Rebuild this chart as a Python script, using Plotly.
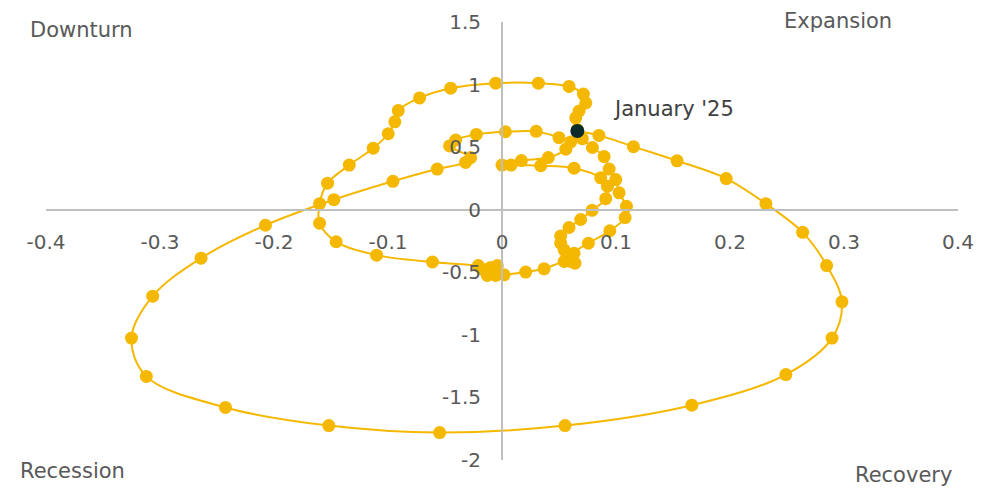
import plotly.graph_objects as go

# Monthly path (x = change, y = level), chronological order, ending at January '25
month_x = [0.064, 0.0632, 0.0758, 0.0946, 0.108, 0.1092, 0.1027, 0.0998, 0.094, 0.0896,
           0.0793, 0.0705, 0.066, 0.0647, 0.0676, 0.0735, 0.0714, 0.0588, 0.0319, -0.0055,
           -0.045, -0.0723, -0.091, -0.094, -0.0998, -0.113, -0.134, -0.153, -0.160, -0.160,
           -0.1455, -0.110, -0.061, -0.0208, -0.0099, -0.0041, -0.0158, -0.0129, -0.0055, 0.0018,
           0.0208, 0.0369, 0.0545, 0.0603, 0.057, 0.0545, 0.0515, 0.0515, 0.0588, 0.069,
           0.079, 0.091, 0.0925, 0.0866, 0.0632, 0.034, 0.008, 0.000, 0.017, 0.0406,
           0.056, 0.0603, 0.050, 0.030, 0.003, -0.0225, -0.0406, -0.046, -0.0275, -0.032,
           -0.0568, -0.0957, -0.1475, -0.2075, -0.264, -0.3064, -0.325, -0.312, -0.2426, -0.1519,
           -0.0547, 0.0553, 0.1665, 0.249, 0.2895, 0.2982, 0.2848, 0.2637, 0.2315, 0.1967,
           0.1536, 0.1153, 0.085, 0.0661]
month_y = [-0.427, -0.348, -0.268, -0.168, -0.063, 0.027, 0.135, 0.241, 0.325, 0.425,
           0.497, 0.568, 0.640, 0.734, 0.789, 0.853, 0.924, 0.985, 1.011, 1.011,
           0.971, 0.893, 0.792, 0.702, 0.607, 0.491, 0.357, 0.212, 0.048, -0.108,
           -0.256, -0.363, -0.418, -0.446, -0.461, -0.446, -0.480, -0.525, -0.525, -0.520,
           -0.498, -0.472, -0.414, -0.414, -0.361, -0.321, -0.268, -0.211, -0.142, -0.078,
           -0.005, 0.088, 0.188, 0.255, 0.332, 0.352, 0.357, 0.357, 0.393, 0.417,
           0.484, 0.542, 0.576, 0.626, 0.623, 0.602, 0.557, 0.510, 0.417, 0.378,
           0.325, 0.227, 0.080, -0.124, -0.387, -0.691, -1.026, -1.332, -1.580, -1.725,
           -1.781, -1.725, -1.562, -1.317, -1.026, -0.736, -0.446, -0.181, 0.048, 0.249,
           0.391, 0.504, 0.594, 0.629]

latest_x = [0.0661]
latest_y = [0.629]
latest_label = ["January '25"]

x_ticks = [-0.4, -0.3, -0.2, -0.1, 0, 0.1, 0.2, 0.3, 0.4]
x_tick_labels = ["-0.4", "-0.3", "-0.2", "-0.1", "0", "0.1", "0.2", "0.3", "0.4"]
y_ticks = [-2, -1.5, -1, -0.5, 0, 0.5, 1, 1.5]
y_tick_labels = ["-2", "-1.5", "-1", "-0.5", "0", "0.5", "1", "1.5"]

quadrant_names = ["Downturn", "Expansion", "Recession", "Recovery"]

YELLOW = "#F5B800"
DARK = "#0C2B2B"
GREY_TXT = "#595959"
AXIS = "#BFBFBF"
FONT = "DejaVu Sans"

fig = go.Figure()
fig.add_trace(go.Scatter(
    x=month_x, y=month_y, mode="lines+markers",
    line=dict(color=YELLOW, width=2, shape="spline", smoothing=1),
    marker=dict(size=13, color=YELLOW),
    hoverinfo="skip", showlegend=False,
))
fig.add_trace(go.Scatter(
    x=latest_x, y=latest_y, mode="markers",
    marker=dict(size=14, color=DARK),
    hoverinfo="skip", showlegend=False,
))

fig.add_annotation(x=latest_x[0], y=latest_y[0], text=latest_label[0], showarrow=False,
                   xanchor="left", yanchor="middle", xshift=34, yshift=22,
                   font=dict(family=FONT, size=21, color="#404040"))

# quadrant labels (paper coordinates of the 912x438 plot area)
quad_pos = [(-0.0197, 0.982), (0.807, 1.002), (-0.0307, -0.025), (0.885, -0.034)]
for name, (px, py) in zip(quadrant_names, quad_pos):
    fig.add_annotation(x=px, y=py, xref="paper", yref="paper", text=name, showarrow=False,
                       xanchor="left", yanchor="middle",
                       font=dict(family=FONT, size=21, color=GREY_TXT))

axis_common = dict(showline=True, linecolor=AXIS, linewidth=2, showgrid=False, zeroline=False,
                   ticks="", tickfont=dict(family=FONT, size=20, color=GREY_TXT),
                   anchor="free", fixedrange=True, automargin=False)

fig.update_layout(
    width=999, height=488, autosize=False,
    margin=dict(l=46, r=41, t=22, b=28),
    paper_bgcolor="white", plot_bgcolor="white",
    font=dict(family=FONT, size=20, color=GREY_TXT),
    xaxis=dict(range=[-0.4, 0.4], tickvals=x_ticks, ticktext=x_tick_labels,
               position=2 / 3.5, ticklabelstandoff=14, **axis_common),
    yaxis=dict(range=[-2, 1.5], tickvals=y_ticks, ticktext=y_tick_labels,
               position=0.5, ticklabelstandoff=16, **axis_common),
)

fig.write_html("out.html", config={"displayModeBar": False},
               post_script="document.body.style.margin='0';document.body.style.overflow='hidden';")
